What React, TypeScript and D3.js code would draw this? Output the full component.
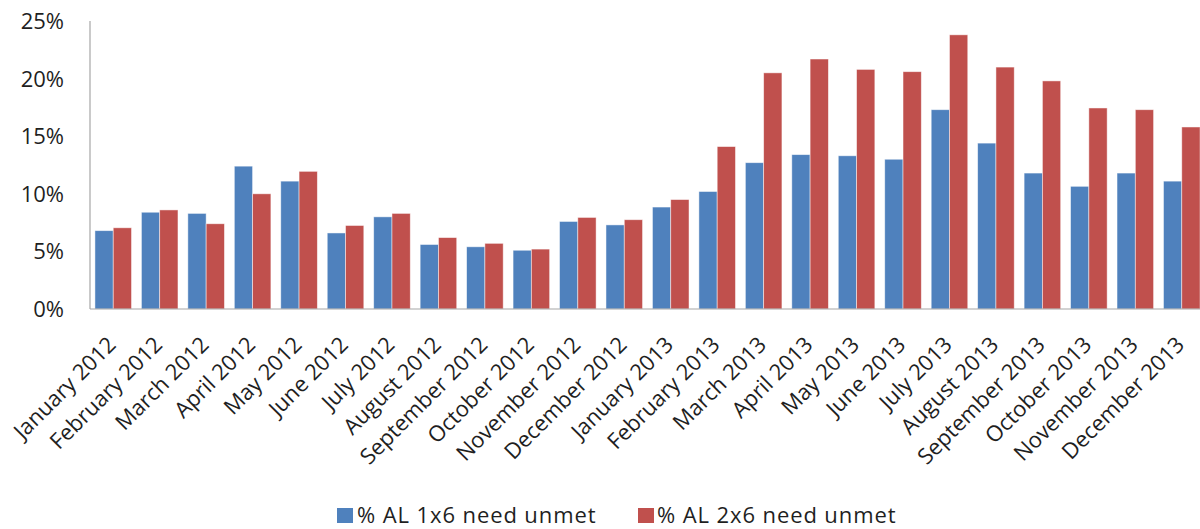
import React from "react";
import * as d3 from "d3";

const categories = [
  "January 2012", "February 2012", "March 2012", "April 2012", "May 2012", "June 2012",
  "July 2012", "August 2012", "September 2012", "October 2012", "November 2012", "December 2012",
  "January 2013", "February 2013", "March 2013", "April 2013", "May 2013", "June 2013",
  "July 2013", "August 2013", "September 2013", "October 2013", "November 2013", "December 2013",
];
const series1x6 = [6.8, 8.4, 8.3, 12.4, 11.1, 6.6, 8.0, 5.6, 5.4, 5.1, 7.6, 7.3, 8.85, 10.2, 12.7, 13.4, 13.3, 13.0, 17.3, 14.4, 11.8, 10.65, 11.8, 11.1];
const series2x6 = [7.05, 8.6, 7.4, 10.0, 11.95, 7.25, 8.3, 6.2, 5.7, 5.2, 7.95, 7.75, 9.5, 14.1, 20.5, 21.7, 20.8, 20.6, 23.8, 21.0, 19.8, 17.45, 17.3, 15.8];
const seriesNames = ["% AL 1x6 need unmet", "% AL 2x6 need unmet"];
const seriesColors = ["#4F81BD", "#C0504D"];
const yTicks = [0, 5, 10, 15, 20, 25];

const W = 1200, H = 529;
const left = 90, right = 1205, top = 21, bottom = 309;
const FONT = "'Open Sans', sans-serif";
const TEXT = "#1f1f1f";

export default function App() {
  const x = d3.scaleBand<string>().domain(categories).range([left, right]).paddingInner(0).paddingOuter(0);
  const inner = d3.scaleBand<number>().domain([0, 1]).range([0, x.bandwidth()]).paddingOuter(0.27).paddingInner(0);
  const y = d3.scaleLinear().domain([0, 25]).range([bottom, top]);
  const data = [series1x6, series2x6];

  return (
    <svg width={W} height={H} style={{ position: "absolute", left: 0, top: 0, background: "#fff" }}
      fontFamily={FONT}>
      {data.map((vals, s) =>
        vals.map((v, i) => (
          <rect key={`${s}-${i}`} x={x(categories[i])! + inner(s)!} y={y(v)}
            width={inner.bandwidth()} height={bottom - y(v)}
            fill={seriesColors[s]} stroke="#fff" strokeOpacity={0.6} strokeWidth={0.8} />
        ))
      )}
      <line x1={left} x2={left} y1={top} y2={bottom} stroke="#A6A6A6" strokeWidth={1.2} />
      <line x1={left} x2={right} y1={bottom} y2={bottom} stroke="#A6A6A6" strokeWidth={1.2} />
      {yTicks.map((t) => (
        <text key={t} x={64} y={y(t)} dy="0.36em" textAnchor="end" fontSize={22} fill={TEXT}>{t}%</text>
      ))}
      {categories.map((c) => {
        const cx = x(c)! + x.bandwidth() / 2 + 4;
        const cy = bottom + 37;
        return (
          <text key={c} transform={`translate(${cx},${cy}) rotate(-45)`} textAnchor="end"
            fontSize={22} fill={TEXT}>{c}</text>
        );
      })}
      <g>
        <rect x={337} y={508} width={16} height={15} fill={seriesColors[0]} />
        <text x={357} y={523} fontSize={22} letterSpacing={0.9} fill={TEXT}>{seriesNames[0]}</text>
        <rect x={638} y={508} width={16} height={15} fill={seriesColors[1]} />
        <text x={657} y={523} fontSize={22} letterSpacing={0.9} fill={TEXT}>{seriesNames[1]}</text>
      </g>
    </svg>
  );
}
